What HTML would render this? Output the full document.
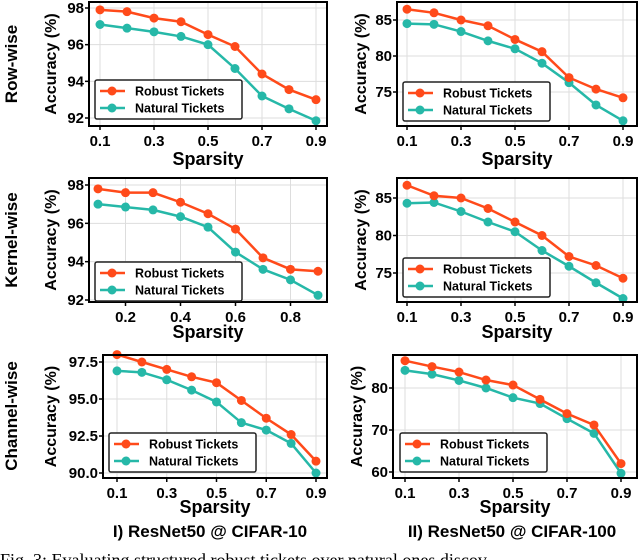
<!DOCTYPE html>
<html><head><meta charset="utf-8"><style>
body{margin:0;background:#fff;}
svg{display:block;font-family:"Liberation Sans",sans-serif;}
</style></head><body>
<svg id="chart" width="640" height="560" viewBox="0 0 640 560">
<text x="17" y="64" transform="rotate(-90 17 64)" text-anchor="middle" font-size="17" font-weight="bold">Row-wise</text>
<text x="17" y="240" transform="rotate(-90 17 240)" text-anchor="middle" font-size="17" font-weight="bold">Kernel-wise</text>
<text x="17" y="416" transform="rotate(-90 17 416)" text-anchor="middle" font-size="17" font-weight="bold">Channel-wise</text>
<text x="210" y="537" text-anchor="middle" font-size="17" font-weight="bold">I) ResNet50 @ CIFAR-10</text>
<text x="512" y="537" text-anchor="middle" font-size="17" font-weight="bold">II) ResNet50 @ CIFAR-100</text>
<text x="0" y="566" font-size="18" font-family="Liberation Serif">Fig. 3: Evaluating structured robust tickets over natural ones discov</text>
</svg>
<script>
const sparsity=[0.1,0.2,0.3,0.4,0.5,0.6,0.7,0.8,0.9];
const p1Robust=[97.9,97.8,97.45,97.25,96.55,95.9,94.4,93.55,93.0];
const p1Natural=[97.1,96.9,96.7,96.45,96.0,94.7,93.2,92.5,91.85];
const p2Robust=[86.5,86.0,85.0,84.2,82.3,80.6,77.0,75.4,74.2];
const p2Natural=[84.5,84.4,83.4,82.1,81.0,79.0,76.3,73.2,71.0];
const p3Robust=[97.8,97.6,97.6,97.1,96.5,95.7,94.2,93.6,93.5];
const p3Natural=[97.0,96.85,96.7,96.35,95.8,94.5,93.6,93.05,92.25];
const p4Robust=[86.7,85.3,85.0,83.6,81.8,80.0,77.2,76.0,74.3];
const p4Natural=[84.3,84.4,83.2,81.8,80.5,78.0,75.9,73.7,71.6];
const p5Robust=[98.0,97.5,97.0,96.5,96.1,94.9,93.7,92.6,90.8];
const p5Natural=[96.9,96.8,96.3,95.6,94.8,93.4,92.9,92.0,90.0];
const p6Robust=[86.5,85.1,83.8,81.9,80.7,77.3,73.9,71.2,62.0];
const p6Natural=[84.2,83.3,81.8,80.0,77.7,76.3,72.7,69.2,59.7];
const ticksA=[92,94,96,98];
const ticksB=[75,80,85];
const ticksC=[90.0,92.5,95.0,97.5];
const ticksD=[60,70,80];
const xTicksOdd=[0.1,0.3,0.5,0.7,0.9];
const xTicksEven=[0.2,0.4,0.6,0.8];

const NS="http://www.w3.org/2000/svg";
const svg=document.getElementById('chart');
function mk(tag,attrs,parent){const e=document.createElementNS(NS,tag);for(const k in attrs)e.setAttribute(k,attrs[k]);(parent||svg).appendChild(e);return e;}

const panels=[
 {id:'p1',box:[89,2,327,126],xr:[0.1,100,0.9,316],yr:[98,8,92,118],yt:ticksA,xt:xTicksOdd,dec:0,r:p1Robust,n:p1Natural,lg:[95,80],ylab:56,sy:165},
 {id:'p2',box:[397,2,637,126],xr:[0.1,407,0.9,623],yr:[85,20,75,92],yt:ticksB,xt:xTicksOdd,dec:0,r:p2Robust,n:p2Natural,lg:[403,82],ylab:366,sy:165},
 {id:'p3',box:[89,178,327,302],xr:[0.1,98,0.9,318],yr:[98,185,92,300],yt:ticksA,xt:xTicksEven,dec:0,r:p3Robust,n:p3Natural,lg:[95,262],ylab:56,sy:338},
 {id:'p4',box:[397,178,637,302],xr:[0.1,407,0.9,623],yr:[85,198,75,273],yt:ticksB,xt:xTicksOdd,dec:0,r:p4Robust,n:p4Natural,lg:[403,258],ylab:366,sy:338},
 {id:'p5',box:[103,355,327,478],xr:[0.1,117,0.9,316],yr:[97.5,362,90,473],yt:ticksC,xt:xTicksOdd,dec:1,r:p5Robust,n:p5Natural,lg:[109,433],ylab:56,sy:513},
 {id:'p6',box:[393,355,637,478],xr:[0.1,405,0.9,621],yr:[80,388,60,472],yt:ticksD,xt:xTicksOdd,dec:0,r:p6Robust,n:p6Natural,lg:[400,433],ylab:362,sy:513}
];
const RC='#ff4a1a', NC='#26b8a8';
panels.forEach(p=>{
 const g=mk('g',{});
 
 
 const sx=v=>p.xr[1]+(v-p.xr[0])/(p.xr[2]-p.xr[0])*(p.xr[3]-p.xr[1]);
 const sy=v=>p.yr[1]+(v-p.yr[0])/(p.yr[2]-p.yr[0])*(p.yr[3]-p.yr[1]);
 const [x0,y0,x1,y1]=p.box;
 p.xt.forEach(t=>{const X=sx(t);
  const l=mk('line',{x1:X,x2:X,y1:y0,y2:y1,stroke:'#ddd','stroke-width':1},g);
  
  const tx=mk('text',{x:X,y:y1+20,'text-anchor':'middle','font-size':15,'font-weight':'bold'},g);tx.textContent=String(t);
  
  mk('line',{x1:X,x2:X,y1:y1,y2:y1+4,stroke:'#000','stroke-width':1.5},g);
 });
 p.yt.forEach(t=>{const Y=sy(t);
  const l=mk('line',{x1:x0,x2:x1,y1:Y,y2:Y,stroke:'#ddd','stroke-width':1},g);
  
  const tx=mk('text',{x:x0-5,y:Y+5,'text-anchor':'end','font-size':15,'font-weight':'bold'},g);tx.textContent=t.toFixed(p.dec);
  
  mk('line',{x1:x0-4,x2:x0,y1:Y,y2:Y,stroke:'#000','stroke-width':1.5},g);
 });
 [[p.n,NC,'natural'],[p.r,RC,'robust']].forEach(([arr,c,nm])=>{
  const pl=mk('polyline',{points:arr.map((v,i)=>sx(sparsity[i])+','+sy(v)).join(' '),fill:'none',stroke:c,'stroke-width':2.5},g);
  
  arr.forEach((v,i)=>{const ci=mk('circle',{cx:sx(sparsity[i]),cy:sy(v),r:4.5,fill:c},g);
   });
 });
 const fr=mk('rect',{x:x0,y:y0,width:x1-x0,height:y1-y0,fill:'none',stroke:'#000','stroke-width':2},g);
 
 const [lx,ly]=p.lg;
 const lg=mk('g',{},g);
 
 mk('rect',{x:lx,y:ly,width:147,height:39,fill:'#fff',stroke:'#222','stroke-width':1.5,rx:2},lg);
 [['Robust Tickets',RC,11],['Natural Tickets',NC,28]].forEach(([t,c,dy])=>{
  mk('line',{x1:lx+5,x2:lx+30,y1:ly+dy,y2:ly+dy,stroke:c,'stroke-width':2.5},lg);
  mk('circle',{cx:lx+17,cy:ly+dy,r:4.5,fill:c},lg);
  const tx=mk('text',{x:lx+40,y:ly+dy+4.5,'font-size':12.5,'font-weight':'bold'},lg);tx.textContent=t;
  
 });
 const cy=(y0+y1)/2;
 const yl=mk('text',{x:p.ylab,y:cy,transform:`rotate(-90 ${p.ylab} ${cy})`,'text-anchor':'middle','font-size':16,'font-weight':'bold'},g);
 yl.textContent='Accuracy (%)';
 
 const xl=mk('text',{x:(x0+x1)/2,y:p.sy,'text-anchor':'middle','font-size':18,'font-weight':'bold'},g);
 xl.textContent='Sparsity';
 
});
</script>
</body></html>
